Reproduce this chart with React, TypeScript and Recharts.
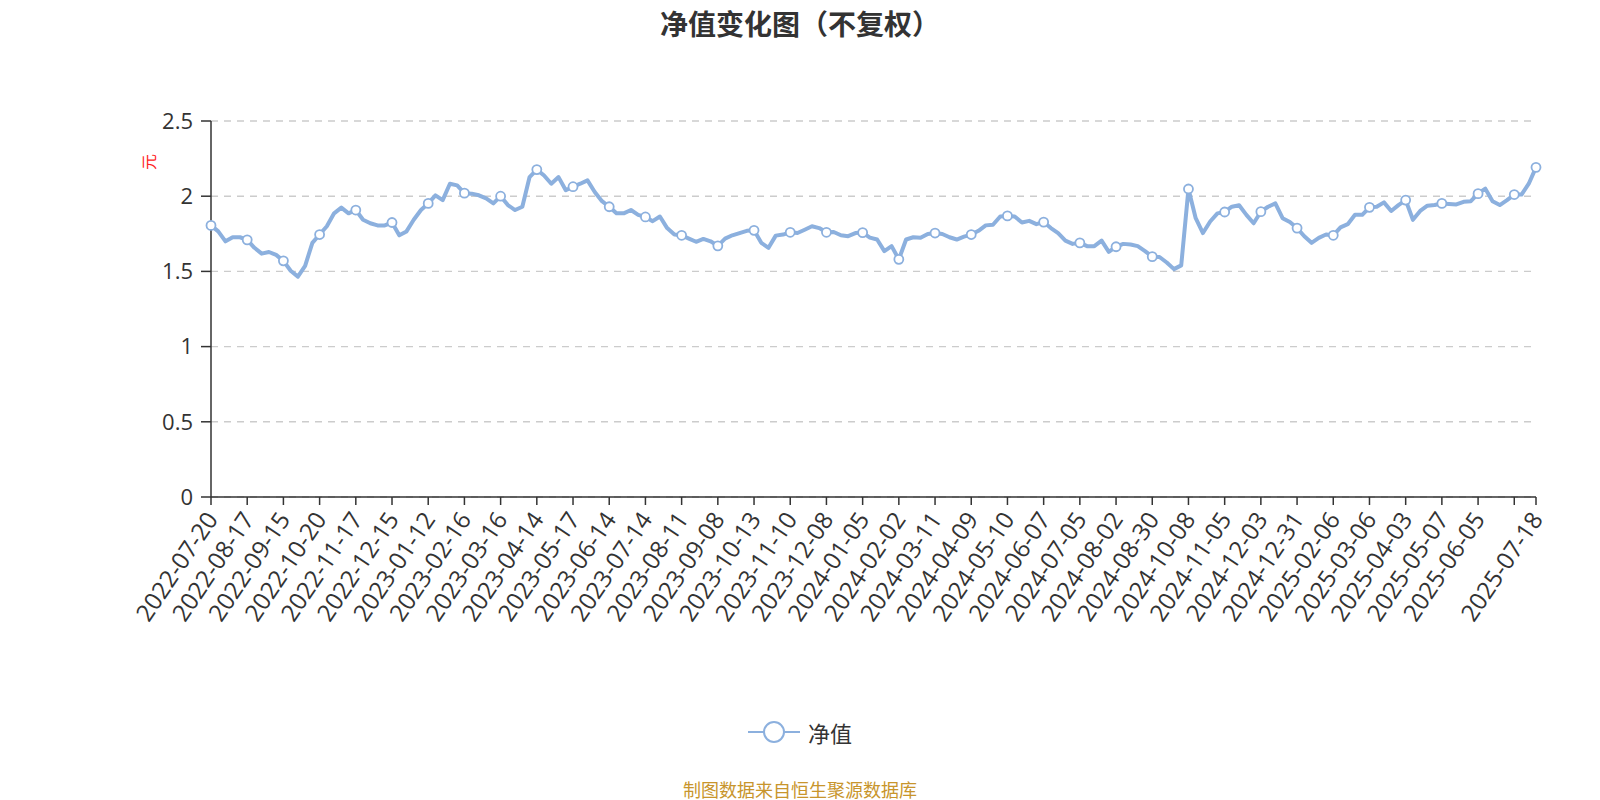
import React from "react";
import { CartesianGrid, Line, LineChart, XAxis, YAxis } from "recharts";

// date labels on the x axis: one every 5 samples, the last one on the final sample
const tickDates = [
  "2022-07-20", "2022-08-17", "2022-09-15", "2022-10-20", "2022-11-17", "2022-12-15",
  "2023-01-12", "2023-02-16", "2023-03-16", "2023-04-14", "2023-05-17", "2023-06-14",
  "2023-07-14", "2023-08-11", "2023-09-08", "2023-10-13", "2023-11-10", "2023-12-08",
  "2024-01-05", "2024-02-02", "2024-03-11", "2024-04-09", "2024-05-10", "2024-06-07",
  "2024-07-05", "2024-08-02", "2024-08-30", "2024-10-08", "2024-11-05", "2024-12-03",
  "2024-12-31", "2025-02-06", "2025-03-06", "2025-04-03", "2025-05-07", "2025-06-05",
  "2025-07-18",
];

// 净值 (元)
const navValues = [
  1.806, 1.766, 1.7, 1.727, 1.727, 1.71, 1.657, 1.618, 1.629, 1.61,
  1.57, 1.504, 1.465, 1.537, 1.69, 1.745, 1.8, 1.886, 1.924, 1.886,
  1.908, 1.843, 1.82, 1.806, 1.806, 1.825, 1.74, 1.766, 1.843, 1.908,
  1.952, 2.006, 1.974, 2.083, 2.072, 2.02, 2.017, 2.006, 1.985, 1.952,
  2.0, 1.941, 1.908, 1.93, 2.127, 2.177, 2.138, 2.083, 2.127, 2.04,
  2.063, 2.083, 2.105, 2.028, 1.967, 1.93, 1.886, 1.886, 1.908, 1.876,
  1.862, 1.834, 1.865, 1.788, 1.745, 1.74, 1.718, 1.697, 1.716, 1.7,
  1.67, 1.718, 1.74, 1.755, 1.77, 1.773, 1.69, 1.657, 1.738, 1.745,
  1.76, 1.755, 1.777, 1.8, 1.788, 1.76, 1.762, 1.74, 1.734, 1.755,
  1.758, 1.725, 1.712, 1.635, 1.668, 1.58, 1.712, 1.727, 1.723, 1.749,
  1.755, 1.749, 1.727, 1.712, 1.731, 1.745, 1.77, 1.806, 1.81, 1.865,
  1.869, 1.865, 1.825, 1.836, 1.814, 1.828, 1.788, 1.755, 1.705, 1.683,
  1.69, 1.668, 1.668, 1.705, 1.63, 1.664, 1.683, 1.679, 1.668, 1.635,
  1.598, 1.596, 1.559, 1.515, 1.54, 2.048, 1.854, 1.755, 1.832, 1.886,
  1.895, 1.93, 1.94, 1.876, 1.82, 1.897, 1.93, 1.952, 1.854, 1.828,
  1.788, 1.734, 1.69, 1.723, 1.745, 1.74, 1.793, 1.814, 1.876, 1.876,
  1.926, 1.93, 1.959, 1.902, 1.941, 1.974, 1.843, 1.902, 1.937, 1.941,
  1.952, 1.948, 1.945, 1.963, 1.967, 2.017, 2.05, 1.967, 1.941, 1.974,
  2.011, 2.011, 2.083, 2.192,
];

const yTicks = [0, 0.5, 1, 1.5, 2, 2.5];

const TICK_EVERY = 5;
const LINE_COLOR = "#8cb0de";
const TEXT_COLOR = "#333";
const FONT = "'Open Sans', 'Noto Sans CJK SC', sans-serif";

const LAST = navValues.length - 1;
const chartData = navValues.map((value, idx) => ({ idx, value }));

// every 5th sample gets a tick; the label that would crowd the final one is dropped
const labelAt: Record<number, string> = {};
tickDates.forEach((date, k) => {
  labelAt[k === tickDates.length - 1 ? LAST : k * TICK_EVERY] = date;
});
const xTicks: number[] = [];
for (let i = 0; i <= LAST; i += TICK_EVERY) xTicks.push(i);
if (xTicks[xTicks.length - 1] !== LAST) xTicks.push(LAST);

function DateTick({ x, y, payload }: any) {
  const label = labelAt[payload.value] ?? "";
  const ty = y + 7;
  return (
    <text
      x={x}
      y={ty}
      transform={`rotate(-56 ${x} ${ty})`}
      textAnchor="end"
      dominantBaseline="central"
      fontSize={24}
      fill={TEXT_COLOR}
      fontFamily={FONT}
    >
      {label}
    </text>
  );
}

function renderDot(props: any) {
  const { cx, cy, index } = props;
  const marked = index % TICK_EVERY === 0 || index === LAST;
  if (!marked) {
    return <g key={`dot-${index}`} />;
  }
  return (
    <circle
      key={`dot-${index}`}
      cx={cx}
      cy={cy}
      r={4.5}
      fill="#fff"
      stroke={LINE_COLOR}
      strokeWidth={1.8}
    />
  );
}

export default function App() {
  return (
    <div
      style={{
        position: "absolute",
        left: 0,
        top: 0,
        width: 1600,
        height: 800,
        background: "#fff",
        fontFamily: FONT,
      }}
    >
      <div
        style={{
          position: "absolute",
          top: 4,
          left: 0,
          width: 1600,
          textAlign: "center",
          fontSize: 28,
          lineHeight: "38px",
          fontWeight: "bold",
          color: TEXT_COLOR,
          fontFamily: "'Noto Sans CJK SC', sans-serif",
        }}
      >
        净值变化图（不复权）
      </div>

      <div
        style={{
          position: "absolute",
          left: 140,
          top: 152,
          width: 16,
          height: 20,
          lineHeight: "20px",
          fontSize: 16,
          color: "#f22",
          transform: "rotate(-90deg)",
          textAlign: "center",
          fontFamily: "'Noto Sans CJK SC', sans-serif",
        }}
      >
        元
      </div>

      <LineChart
        width={1600}
        height={800}
        data={chartData}
        margin={{ top: 121, right: 64, bottom: 173, left: 131 }}
      >
        <CartesianGrid
          horizontal
          vertical={false}
          stroke="#ccc"
          strokeWidth={1.4}
          strokeDasharray="7 6"
        />
        <XAxis
          dataKey="idx"
          type="number"
          domain={[0, LAST]}
          ticks={xTicks}
          interval={0}
          height={130}
          tick={<DateTick />}
          tickSize={8}
          tickLine={{ stroke: TEXT_COLOR, strokeWidth: 1.5 }}
          axisLine={{ stroke: TEXT_COLOR, strokeWidth: 1.5 }}
        />
        <YAxis
          domain={[0, 2.5]}
          ticks={yTicks}
          width={80}
          tickSize={10}
          tickMargin={8}
          tick={{ fill: TEXT_COLOR, fontSize: 22, fontFamily: FONT }}
          tickLine={{ stroke: TEXT_COLOR, strokeWidth: 1.5 }}
          axisLine={{ stroke: TEXT_COLOR, strokeWidth: 1.5 }}
        />
        <Line
          type="linear"
          dataKey="value"
          stroke={LINE_COLOR}
          strokeWidth={4}
          strokeLinejoin="round"
          dot={renderDot}
          activeDot={false}
          isAnimationActive={false}
        />
      </LineChart>

      <div
        style={{
          position: "absolute",
          top: 716,
          left: 0,
          width: 1600,
          display: "flex",
          justifyContent: "center",
          alignItems: "center",
          gap: 8,
        }}
      >
        <svg width={52} height={26}>
          <line x1={0} y1={13} x2={52} y2={13} stroke={LINE_COLOR} strokeWidth={2} />
          <circle cx={26} cy={13} r={10} fill="#fff" stroke={LINE_COLOR} strokeWidth={2} />
        </svg>
        <span
          style={{
            fontSize: 22,
            color: TEXT_COLOR,
            fontFamily: "'Noto Sans CJK SC', sans-serif",
          }}
        >
          净值
        </span>
      </div>

      <div
        style={{
          position: "absolute",
          top: 778,
          left: 0,
          width: 1600,
          textAlign: "center",
          fontSize: 18,
          lineHeight: "22px",
          color: "#c8952c",
          fontFamily: "'Noto Sans CJK SC', sans-serif",
        }}
      >
        制图数据来自恒生聚源数据库
      </div>
    </div>
  );
}
